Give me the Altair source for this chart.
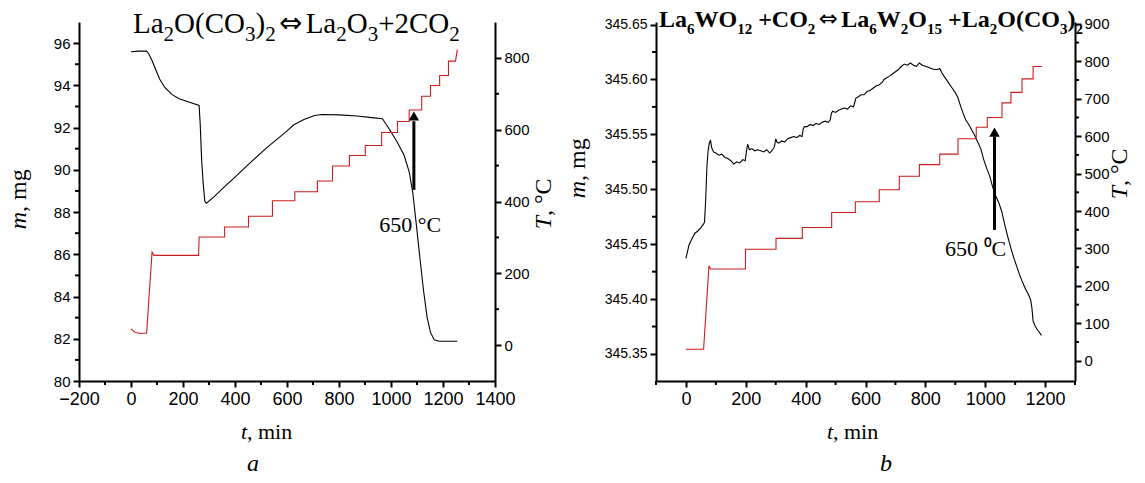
import altair as alt
import pandas as pd

# ---------------- Panel a data ----------------
a_mass_t = [0, 30, 60, 68, 80, 95, 110, 130, 157, 185, 225, 262, 266, 272, 278, 284, 290, 320, 360, 400,
            460, 527, 596, 625, 665, 706, 735, 800, 870, 926, 967, 995, 1022, 1050, 1070, 1084, 1097,
            1111, 1125, 1139, 1152, 1166, 1185, 1220, 1255]
a_mass_m = [95.59, 95.62, 95.62, 95.5, 95.2, 94.75, 94.3, 93.9, 93.57, 93.37, 93.2, 93.05, 92.2, 90.4,
            89.3, 88.5, 88.42, 88.73, 89.2, 89.65, 90.35, 91.1, 91.8, 92.12, 92.38, 92.57, 92.62, 92.6,
            92.55, 92.47, 92.42, 91.9, 91.35, 90.7, 89.9, 88.9, 87.45, 85.85, 84.3, 83.0, 82.3, 81.95,
            81.88, 81.88, 81.88]

a_temp_t = [0, 15, 30, 60, 81, 88, 260, 262, 360, 360, 452, 452, 544, 544, 630, 630, 717, 717, 775, 775,
            840, 840, 901, 901, 964, 964, 1025, 1025, 1070, 1070, 1118, 1118, 1152, 1152, 1187, 1187,
            1221, 1221, 1248, 1255]
a_temp_T = [45, 36, 33, 33, 259, 250, 250, 301, 301, 329, 329, 359, 359, 402, 402, 427, 427, 457, 457, 499,
            499, 528, 528, 556, 556, 592, 592, 623, 623, 655, 655, 693, 693, 723, 723, 751, 751, 791,
            791, 823]

a_x_major = [-200, 0, 200, 400, 600, 800, 1000, 1200, 1400]
a_x_minor = [-100, 100, 300, 500, 700, 900, 1100, 1300]
a_m_major = [80, 82, 84, 86, 88, 90, 92, 94, 96]
a_m_minor = [81, 83, 85, 87, 89, 91, 93, 95]
a_T_major = [0, 200, 400, 600, 800]
a_T_minor = [100, 300, 500, 700]

# ---------------- Panel b data ----------------
b_mass_t = [0, 5, 10, 20, 30, 40, 50, 58, 62, 66, 70, 74, 78, 82, 86, 92, 100, 110, 120, 130, 140, 150,
            160, 170, 180, 190, 198, 202, 206, 212, 220, 230, 240, 250, 260, 270, 280, 290, 296, 300,
            304, 310, 320, 330, 340, 350, 360, 370, 380, 388, 392, 396, 405, 415, 425, 435, 445, 455,
            465, 475, 482, 486, 490, 500, 510, 520, 530, 540, 550, 560, 564, 568, 575, 585, 595, 605,
            615, 625, 635, 645, 655, 662, 668, 680, 690, 700, 710, 720, 730, 740, 750, 760, 770, 780,
            790, 800, 810, 820, 830, 840, 848, 855, 862, 870, 880, 890, 900, 908, 915, 925, 935, 945,
            955, 965, 975, 985, 995, 1005, 1015, 1025, 1035, 1045, 1055, 1065, 1075, 1085, 1095, 1105,
            1115, 1125, 1135, 1145, 1152, 1156, 1160, 1166, 1172, 1180, 1188]
b_mass_m = [345.437, 345.443, 345.449, 345.455, 345.460, 345.462, 345.465, 345.468, 345.470, 345.490,
            345.520, 345.535, 345.542, 345.545, 345.538, 345.534, 345.533, 345.531, 345.532, 345.529,
            345.528, 345.526, 345.523, 345.525, 345.524, 345.527, 345.526, 345.534, 345.541, 345.536,
            345.537, 345.535, 345.536, 345.535, 345.534, 345.536, 345.533, 345.536, 345.539, 345.546,
            345.543, 345.542, 345.544, 345.543, 345.546, 345.547, 345.548, 345.547, 345.549, 345.548,
            345.555, 345.557, 345.557, 345.559, 345.558, 345.560, 345.559, 345.561, 345.562, 345.561,
            345.563, 345.569, 345.571, 345.570, 345.572, 345.573, 345.574, 345.573, 345.576, 345.575,
            345.579, 345.583, 345.584, 345.586, 345.586, 345.589, 345.590, 345.592, 345.594, 345.595,
            345.597, 345.600, 345.601, 345.603, 345.605, 345.607, 345.609, 345.612, 345.614, 345.613,
            345.615, 345.613, 345.612, 345.615, 345.613, 345.612, 345.611, 345.610, 345.609, 345.609,
            345.610, 345.606, 345.603, 345.600, 345.596, 345.592, 345.588, 345.584, 345.578, 345.570,
            345.563, 345.559, 345.554, 345.549, 345.543, 345.537, 345.527, 345.519, 345.512, 345.502,
            345.494, 345.488, 345.480, 345.468, 345.457, 345.447, 345.438, 345.430, 345.422, 345.415,
            345.409, 345.404, 345.399, 345.392, 345.380, 345.376, 345.373, 345.370, 345.367]

b_temp_t = [0, 59, 77, 82, 199, 199, 301, 301, 389, 389, 487, 487, 566, 566, 646, 646, 713, 713, 780, 780,
            848, 848, 909, 909, 970, 970, 1007, 1007, 1056, 1056, 1086, 1086, 1123, 1123, 1160, 1160, 1190]
b_temp_T = [31, 31, 254, 245, 245, 298, 298, 327, 327, 356, 356, 396, 396, 425, 425, 457, 457, 493, 493,
            524, 524, 552, 552, 593, 593, 624, 624, 650, 650, 689, 689, 717, 717, 753, 753, 786, 786]

b_x_major = [0, 200, 400, 600, 800, 1000, 1200]
b_x_minor = [-100, 100, 300, 500, 700, 900, 1100, 1300]
b_m_major = [345.35, 345.40, 345.45, 345.50, 345.55, 345.60, 345.65]
b_m_minor = [345.375, 345.425, 345.475, 345.525, 345.575, 345.625]
b_T_major = [0, 100, 200, 300, 400, 500, 600, 700, 800, 900]
b_T_minor = [50, 150, 250, 350, 450, 550, 650, 750, 850]

# titles: (text, kind) with kind main / sub / arrow
a_title = [("La", "main"), ("2", "sub"), ("O(CO", "main"), ("3", "sub"), (")", "main"), ("2", "sub"),
           ("⇔", "arrow"), ("La", "main"), ("2", "sub"), ("O", "main"), ("3", "sub"),
           ("+2CO", "main"), ("2", "sub")]
b_title = [("La", "main"), ("6", "sub"), ("WO", "main"), ("12", "sub"), (" +CO", "main"), ("2", "sub"),
           ("⇔", "arrow"), ("La", "main"), ("6", "sub"), ("W", "main"), ("2", "sub"), ("O", "main"),
           ("15", "sub"), (" +La", "main"), ("2", "sub"), ("O(CO", "main"), ("3", "sub"), (")", "main"),
           ("2", "sub")]

# arrows / annotations
a_arrow = {"t": [1088], "m1": [89.05], "m2": [92.3], "tip": [92.55]}
b_arrow = {"t": [1031], "m1": [345.463], "m2": [345.548], "tip": [345.552]}

SERIF = "Liberation Serif"
SANS = "Liberation Sans"
RED = "#d01c1c"

# Times / Liberation Serif advance widths (per 1000 em)
W_REG = {"L": 611, "a": 444, "O": 722, "(": 333, ")": 333, "C": 667, "+": 564, " ": 250, "W": 944}
W_BOLD = {"L": 667, "a": 500, "O": 778, "(": 333, ")": 333, "C": 722, "+": 570, " ": 250, "W": 1000}


def text_width(s, size, bold):
    tab = W_BOLD if bold else W_REG
    return sum(tab.get(c, 500) for c in s) * size / 1000.0


def axis(values, orient, fmt, lab_size):
    return alt.Axis(
        values=values, orient=orient, title=None, grid=False, format=fmt,
        labelFont=SANS, labelFontSize=lab_size, labelColor="black",
        labelOverlap=False, labelFlush=False, labelPadding=3,
        domainColor="black", domainWidth=2, tickColor="black", tickWidth=2, tickSize=6,
    )


def txt(s, x, y, size=22, style="normal", weight="normal", align="left", angle=0,
        baseline="alphabetic", font=SERIF):
    return alt.Chart(pd.DataFrame({"s": [s]})).mark_text(
        font=font, fontSize=size, fontStyle=style, fontWeight=weight, align=align,
        angle=angle, baseline=baseline, color="black"
    ).encode(text="s:N", x=alt.value(x), y=alt.value(y))


def title_marks(segs, x0, y0, S, s, bold, sub_dy, arrow_w):
    marks = []
    x = x0
    weight = "bold" if bold else "normal"
    for t, kind in segs:
        if kind == "arrow":
            marks.append(txt(t, x + arrow_w / 2, y0 - 1, size=S * 0.95, align="center",
                             font="DejaVu Sans"))
            x += arrow_w
            continue
        size = S if kind == "main" else s
        lead = len(t) - len(t.lstrip(" "))
        x += text_width(" " * lead, size, bold)
        core = t.lstrip(" ")
        marks.append(txt(core, x, y0 if kind == "main" else y0 + sub_dy, size=size, weight=weight))
        x += text_width(core, size, bold)
    return marks


def panel(mass_t, mass_m, temp_t, temp_T, xdom, mdom, Tdom, xmaj, xmin, mmaj, mmin, Tmaj, Tmin,
          mfmt, arrow, lab650, title_spec, pos, w, h, xlab, ylab, rlab):
    dm = pd.DataFrame({"t": mass_t, "m": mass_m, "i": range(len(mass_t))})
    dT = pd.DataFrame({"t": temp_t, "T": temp_T, "i": range(len(temp_t))})
    xsc = alt.Scale(domain=xdom, nice=False, zero=False)
    msc = alt.Scale(domain=mdom, nice=False, zero=False)
    Tsc = alt.Scale(domain=Tdom, nice=False, zero=False)
    x_ax = axis(xmaj, "bottom", "d", xlab)
    m_ax = axis(mmaj, "left", mfmt, ylab)
    T_ax = axis(Tmaj, "right", "d", rlab)

    mass = alt.Chart(dm).mark_line(color="black", strokeWidth=1.1).encode(
        x=alt.X("t:Q", scale=xsc, axis=x_ax),
        y=alt.Y("m:Q", scale=msc, axis=m_ax),
        order="i:Q",
    )
    da = pd.DataFrame(arrow)
    shaft = alt.Chart(da).mark_rule(color="black", strokeWidth=3).encode(
        x=alt.X("t:Q", axis=x_ax), y=alt.Y("m1:Q", axis=m_ax), y2="m2:Q")
    head = alt.Chart(da).mark_point(shape="triangle-up", filled=True, color="black",
                                    opacity=1, size=110).encode(
        x=alt.X("t:Q", axis=x_ax), y=alt.Y("tip:Q", axis=m_ax))
    dl = pd.DataFrame(lab650)
    lbl = alt.Chart(dl).mark_text(font=SERIF, fontSize=22, align="left", baseline="middle",
                                  color="black").encode(
        x=alt.X("t:Q", axis=x_ax), y=alt.Y("m:Q", axis=m_ax), text="s:N")
    minx = alt.Chart(pd.DataFrame({"t": xmin})).mark_rule(color="black", strokeWidth=2).encode(
        x=alt.X("t:Q", axis=x_ax), y=alt.value(h), y2=alt.value(h + 4))
    miny = alt.Chart(pd.DataFrame({"m": mmin})).mark_rule(color="black", strokeWidth=2).encode(
        y=alt.Y("m:Q", axis=m_ax), x=alt.value(0), x2=alt.value(-4))
    mass_group = alt.layer(mass, shaft, head, lbl, minx, miny)

    temp = alt.Chart(dT).mark_line(color=RED, strokeWidth=1.1).encode(
        x=alt.X("t:Q", axis=x_ax),
        y=alt.Y("T:Q", scale=Tsc, axis=T_ax),
        order="i:Q",
    )
    minT = alt.Chart(pd.DataFrame({"T": Tmin})).mark_rule(color="black", strokeWidth=2).encode(
        y=alt.Y("T:Q", axis=T_ax), x=alt.value(w), x2=alt.value(w + 4))
    temp_group = alt.layer(temp, minT)

    p = pos
    texts = title_marks(*title_spec)
    texts += [
        txt("m", p["ml"][0], p["ml"][1], size=24, style="italic", align="right", angle=270,
            baseline="middle"),
        txt(", mg", p["ml"][0], p["ml"][1], size=24, align="left", angle=270, baseline="middle"),
        txt("T", p["tl"][0], p["tl"][1], size=24, style="italic", align="right", angle=270,
            baseline="middle"),
        txt(", °C", p["tl"][0], p["tl"][1], size=24, align="left", angle=270, baseline="middle"),
        txt("t", p["xl"][0], p["xl"][1], size=22, style="italic", align="right"),
        txt(", min", p["xl"][0], p["xl"][1], size=22, align="left"),
        txt(p["cap"][2], p["cap"][0], p["cap"][1], size=24, style="italic", align="center"),
    ]
    return alt.layer(mass_group, temp_group, *texts).resolve_scale(y="independent").properties(
        width=w, height=h)


pa = panel(
    a_mass_t, a_mass_m, a_temp_t, a_temp_T, [-200, 1400], [80, 97], [-100, 900],
    a_x_major, a_x_minor, a_m_major, a_m_minor, a_T_major, a_T_minor, "d",
    a_arrow, {"t": [955], "m": [87.4], "s": ["650 °C"]},
    (a_title, 54, 11, 29, 21, False, 8, 30),
    {"ml": (-60, 190), "tl": (465, 194), "xl": (168, 417), "cap": (174, 449, "a")},
    416, 359, 18, 15, 15,
)

pb = panel(
    b_mass_t, b_mass_m, b_temp_t, b_temp_T, [-100, 1300], [345.3254, 345.6523], [-54, 905],
    b_x_major, b_x_minor, b_m_major, b_m_minor, b_T_major, b_T_minor, ".2f",
    b_arrow, {"t": [866], "m": [345.446], "s": ["650 ⁰C"]},
    (b_title, 3, 5, 24, 15, True, 7, 26),
    {"ml": (-78, 159), "tl": (464, 164), "xl": (177, 417), "cap": (230, 449, "b")},
    419, 359, 18, 14, 15,
)

chart = alt.hconcat(pa, pb, spacing=8).properties(
    padding={"left": 6, "top": 7, "right": 5, "bottom": 5},
    background="white",
).configure_view(stroke="transparent")

chart.save("out.html", embed_options={"renderer": "svg", "actions": False})
